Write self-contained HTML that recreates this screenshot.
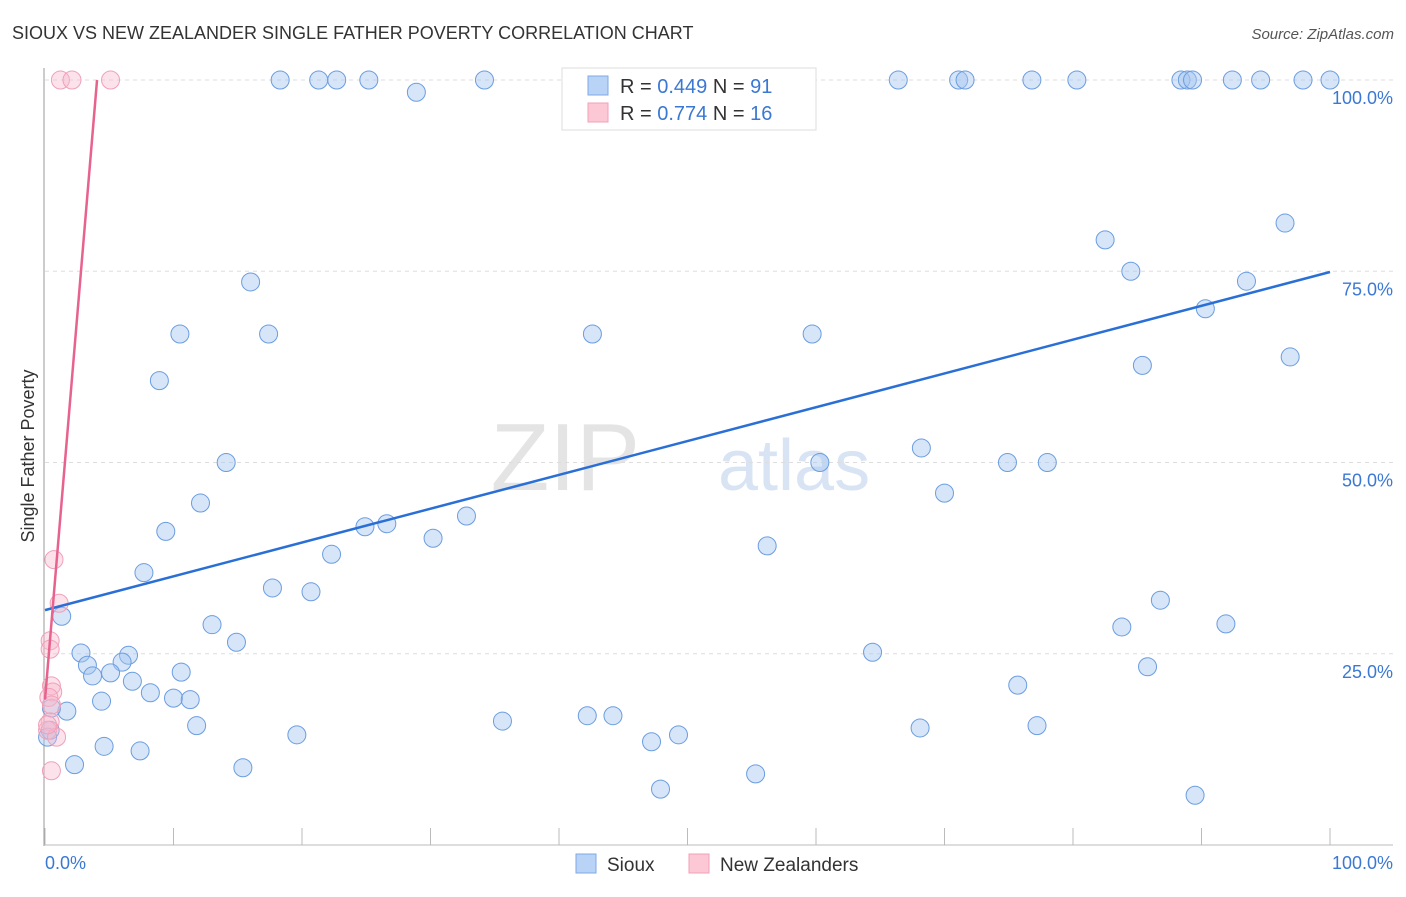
<!DOCTYPE html>
<html><head><meta charset="utf-8"><style>
body{margin:0;background:#fff;font-family:"Liberation Sans",sans-serif}
svg text{font-family:"Liberation Sans",sans-serif}
</style></head><body>
<svg id="c" width="1406" height="892" xmlns="http://www.w3.org/2000/svg">
<text x="12" y="39" font-size="18" fill="#333">SIOUX VS NEW ZEALANDER SINGLE FATHER POVERTY CORRELATION CHART</text>
<text x="1394" y="39" font-size="15" fill="#555" text-anchor="end" font-style="italic">Source: ZipAtlas.com</text>
<text x="34" y="456" font-size="18" fill="#333" text-anchor="middle" transform="rotate(-90 34 456)">Single Father Poverty</text>
<text x="640" y="490" font-size="96" fill="#e4e4e4" font-family="Liberation Serif" text-anchor="end">ZIP</text>
<text x="718" y="490" font-size="72" fill="#d8e4f4">atlas</text>
<g id="grid"></g>
<g id="pts"></g>
<g id="lines"></g>
<g>
<rect x="562" y="68" width="254" height="62" fill="#fff" stroke="#ddd"/>
<rect x="588" y="76" width="20" height="19" fill="#b8d3f6" stroke="#7fa9e6"/>
<rect x="588" y="103" width="20" height="19" fill="#fcc8d6" stroke="#f2a0b8"/>
<text x="620" y="93" font-size="20" fill="#333">R = <tspan fill="#3a78d4">0.449</tspan>   N = <tspan fill="#3a78d4">91</tspan></text>
<text x="620" y="120" font-size="20" fill="#333">R =  <tspan fill="#3a78d4">0.774</tspan>   N = <tspan fill="#3a78d4">16</tspan></text>
</g>
<g>
<rect x="576" y="854" width="20" height="19" fill="#b8d3f6" stroke="#7fa9e6"/>
<text x="607" y="871" font-size="19" fill="#333">Sioux</text>
<rect x="689" y="854" width="20" height="19" fill="#fcc8d6" stroke="#f2a0b8"/>
<text x="720" y="871" font-size="19" fill="#333">New Zealanders</text>
</g>
</svg>
<script>
const yTicks=[25,50,75,100];
const yTickLabels=["25.0%","50.0%","75.0%","100.0%"];
const xTicks=[0,10,20,30,40,50,60,70,80,90,100];
const siouxX=[18.3,21.3,22.7,25.2,34.2,46.5,52.0,57.2,66.4,71.1,71.6,76.8,80.3,88.4,88.9,89.3,92.4,94.6,97.9,100,28.9,82.5,96.5,84.5,93.5,90.3,16.0,10.5,17.4,42.6,59.7,85.4,96.9,8.9,14.1,60.3,68.2,74.9,78.0,70.0,12.1,9.4,24.9,26.6,32.8,30.2,22.3,56.2,7.7,17.7,20.7,86.8,1.3,13.0,83.8,91.9,14.9,64.4,2.8,6.5,3.3,6.0,3.7,5.1,10.6,85.8,6.8,8.2,75.7,10.0,11.3,4.4,1.7,0.5,11.8,35.6,42.2,44.2,68.1,77.2,19.6,49.3,47.2,4.6,7.4,2.3,15.4,55.3,47.9,89.5,0.4,0.2];
const siouxY=[100,100,100,100,100,100,100,100,100,100,100,100,100,100,100,100,100,100,100,100,98.4,79.1,81.3,75.0,73.7,70.1,73.6,66.8,66.8,66.8,66.8,62.7,63.8,60.7,50.0,50.0,51.9,50.0,50.0,46.0,44.7,41.0,41.6,42.0,43.0,40.1,38.0,39.1,35.6,33.6,33.1,32.0,29.9,28.8,28.5,28.9,26.5,25.2,25.1,24.8,23.5,23.9,22.1,22.5,22.6,23.3,21.4,19.9,20.9,19.2,19.0,18.8,17.5,17.9,15.6,16.2,16.9,16.9,15.3,15.6,14.4,14.4,13.5,12.9,12.3,10.5,10.1,9.3,7.3,6.5,15.0,14.1];
const nzX=[1.2,2.1,5.1,0.7,1.1,0.4,0.4,0.5,0.6,0.3,0.5,0.4,0.2,0.9,0.5,0.2];
const nzY=[100,100,100,37.3,31.6,26.7,25.6,20.8,20.0,19.3,18.3,16.1,15.0,14.1,9.7,15.7];
const siouxFit=[30.7,74.9];
const nzFit=[19,20];
const NS="http://www.w3.org/2000/svg";
const sx=v=>45+v*12.85, sy=v=>845-v*7.65;
function mk(t,a,p){const e=document.createElementNS(NS,t);for(const k in a)e.setAttribute(k,a[k]);p.appendChild(e);return e;}
const g=document.getElementById('grid');
yTicks.forEach((t,i)=>{
 const l=mk('line',{x1:45,x2:1393,y1:sy(t),y2:sy(t),stroke:'#ddd','stroke-dasharray':'4,4'},g);
 
 
 const tx=mk('text',{x:1393,y:sy(t)+24,'font-size':18,fill:'#3a78d4','text-anchor':'end'},g);
 tx.textContent=yTickLabels[i];
 
 
});
mk('line',{x1:44,x2:44,y1:68,y2:846,stroke:'#999'},g);
mk('line',{x1:44,x2:1393,y1:845,y2:845,stroke:'#bbb'},g);
xTicks.forEach(t=>{const l=mk('line',{x1:sx(t),x2:sx(t),y1:828,y2:845,stroke:'#bbb'},g);
 
 });
const x0=mk('text',{x:45,y:869,'font-size':18,fill:'#3a78d4'},g);x0.textContent='0.0%';


const x1=mk('text',{x:1393,y:869,'font-size':18,fill:'#3a78d4','text-anchor':'end'},g);x1.textContent='100.0%';


const p=document.getElementById('pts');
siouxX.forEach((v,i)=>{const c=mk('circle',{cx:sx(v),cy:sy(siouxY[i]),r:9,fill:'rgba(165,198,240,0.45)',stroke:'#6b9de0','stroke-width':1},p);
 
 });
nzX.forEach((v,i)=>{const c=mk('circle',{cx:sx(v),cy:sy(nzY[i]),r:9,fill:'rgba(248,185,205,0.4)',stroke:'#f0a0b8','stroke-width':1},p);
 
 });
const L=document.getElementById('lines');
const bl=mk('line',{x1:sx(0),y1:sy(siouxFit[0]),x2:sx(100),y2:sy(siouxFit[1]),stroke:'#2a6fd6','stroke-width':2.5},L);


const xe=(100-nzFit[0])/nzFit[1];
const pl=mk('line',{x1:sx(0),y1:sy(nzFit[0]),x2:sx(xe),y2:sy(100),stroke:'#e8628e','stroke-width':2.5},L);


</script>
</body></html>
